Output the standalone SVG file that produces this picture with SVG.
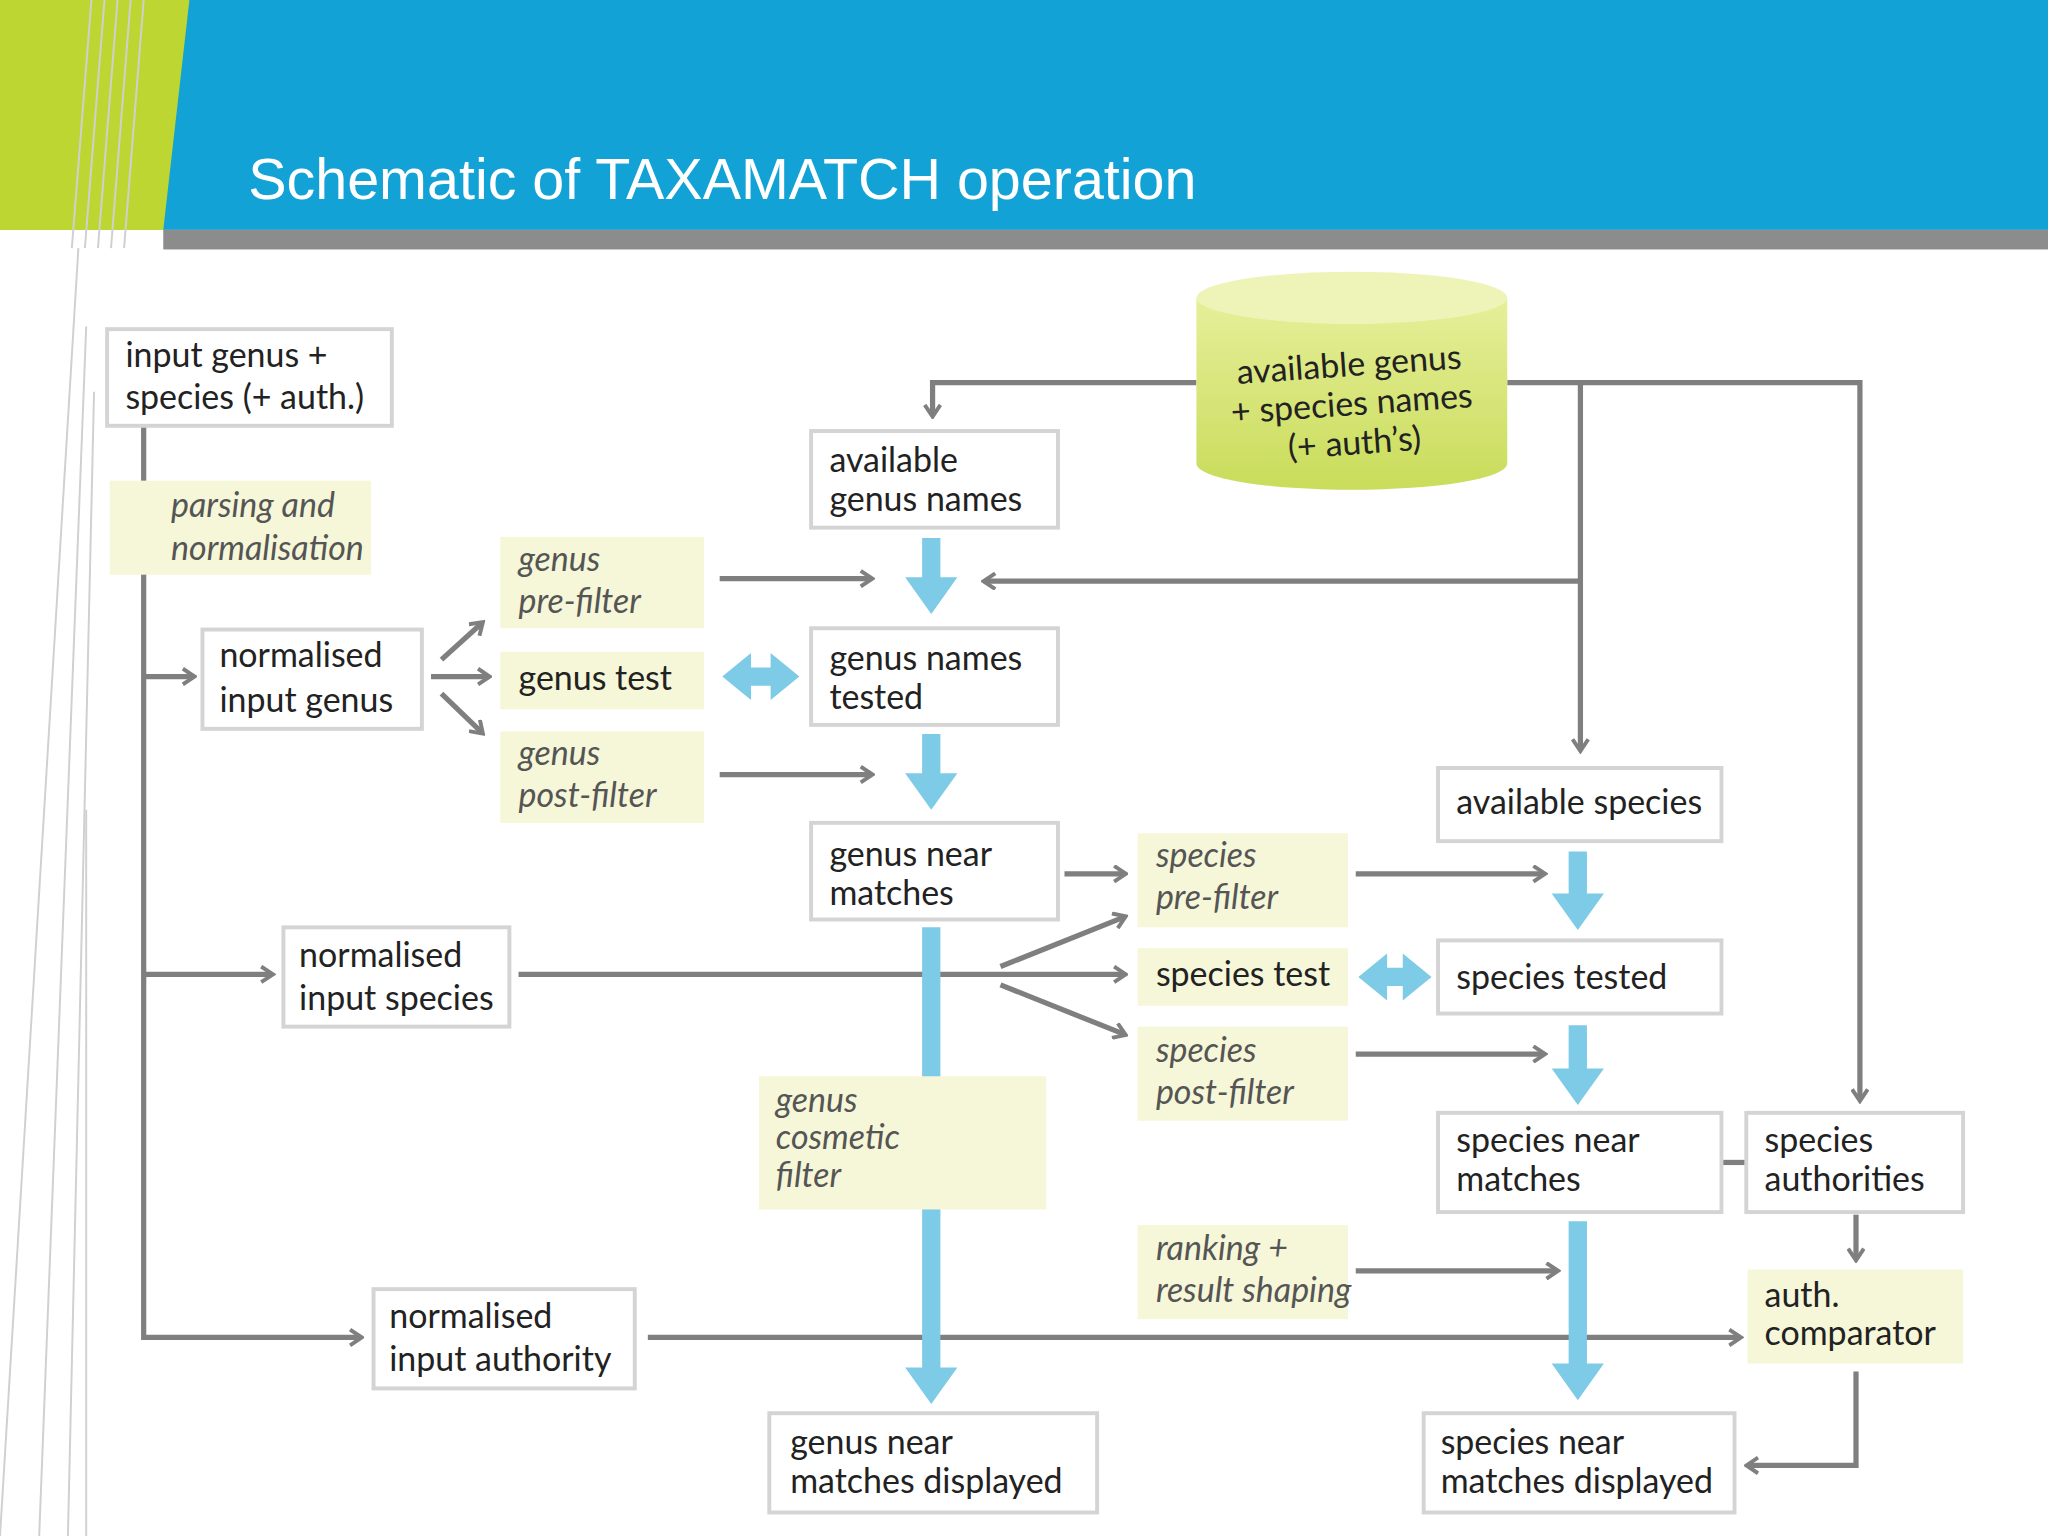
<svg xmlns="http://www.w3.org/2000/svg" width="2048" height="1536" viewBox="0 0 2048 1536">
<defs>
<marker id="ah" markerWidth="12" markerHeight="14" refX="9" refY="7" orient="auto" markerUnits="userSpaceOnUse"><path d="M1,1 L10,7 L1,13" fill="none" stroke="#7f7f7f" stroke-width="3"/></marker>
<linearGradient id="cyl" x1="0" y1="0" x2="0" y2="1"><stop offset="0" stop-color="#e6ef9a"/><stop offset="1" stop-color="#c9dc5a"/></linearGradient>
<style>
.n{fill:#fff;stroke:#d4d4d4;stroke-width:3}
.y{fill:#f5f7d8}
.t{font-family:Lato,"Open Sans",sans-serif;font-size:26px;fill:#222}
.i{font-family:Lato,"Open Sans",sans-serif;font-size:26px;font-style:italic;fill:#555}
.c{fill:none;stroke:#7f7f7f;stroke-width:4}
.b{fill:#7dcbe6}
</style>
</defs>
<rect width="2048" height="1536" fill="#fff"/>
<g transform="scale(1.306122)">
<rect x="0" y="0" width="1568" height="176" fill="#12a2d6"/>
<polygon points="0,0 145,0 125,176 0,176" fill="#bdd631"/>
<rect x="125" y="176" width="1443" height="15" fill="#8c8c8c"/>
<g stroke="#d0d0d0" stroke-width="1.5">
<line x1="60" y1="190" x2="0" y2="1176"/><line x1="66" y1="250" x2="30" y2="1176"/><line x1="72" y1="300" x2="52" y2="1176"/><line x1="66" y1="620" x2="66" y2="1176"/>
<line x1="70" y1="0" x2="55" y2="190"/><line x1="80" y1="0" x2="65" y2="190"/><line x1="90" y1="0" x2="75" y2="190"/><line x1="100" y1="0" x2="85" y2="190"/><line x1="110" y1="0" x2="95" y2="190"/>
</g>
<text x="190" y="152" font-family="Liberation Sans,Arial,sans-serif" font-size="44" fill="#fff">Schematic of TAXAMATCH operation</text>

<g id="connectors">
<polyline class="c" points="916,293 714,293 714,318" marker-end="url(#ah)"/>
<polyline class="c" points="1154,293 1424,293 1424,842" marker-end="url(#ah)"/>
<polyline class="c" points="1210,293 1210,574" marker-end="url(#ah)"/>
<polyline class="c" points="1210,445 754,445" marker-end="url(#ah)"/>
<line class="c" x1="551" y1="443" x2="667" y2="443" marker-end="url(#ah)"/>
<line class="c" x1="551" y1="593" x2="667" y2="593" marker-end="url(#ah)"/>
<polyline class="c" points="110,326 110,1024 276,1024" marker-end="url(#ah)"/>
<line class="c" x1="110" y1="518" x2="148" y2="518" marker-end="url(#ah)"/>
<line class="c" x1="110" y1="746" x2="208" y2="746" marker-end="url(#ah)"/>
<line class="c" x1="330" y1="518" x2="374" y2="518" marker-end="url(#ah)"/>
<line class="c" x1="338" y1="505" x2="369" y2="477" marker-end="url(#ah)"/>
<line class="c" x1="338" y1="531" x2="369" y2="561" marker-end="url(#ah)"/>
<line class="c" x1="397" y1="746" x2="861" y2="746" marker-end="url(#ah)"/>
<line class="c" x1="766" y1="740" x2="861" y2="702" marker-end="url(#ah)"/>
<line class="c" x1="766" y1="754" x2="861" y2="792" marker-end="url(#ah)"/>
<line class="c" x1="815" y1="669" x2="861" y2="669" marker-end="url(#ah)"/>
<line class="c" x1="1038" y1="669" x2="1182" y2="669" marker-end="url(#ah)"/>
<line class="c" x1="1038" y1="807" x2="1182" y2="807" marker-end="url(#ah)"/>
<line class="c" x1="1038" y1="973" x2="1192" y2="973" marker-end="url(#ah)"/>
<line class="c" x1="496" y1="1024" x2="1332" y2="1024" marker-end="url(#ah)"/>
<line class="c" x1="1318" y1="890" x2="1337" y2="890"/>
<line class="c" x1="1421" y1="930" x2="1421" y2="964" marker-end="url(#ah)"/>
<polyline class="c" points="1421,1050 1421,1122 1338,1122" marker-end="url(#ah)"/>
<polygon class="b" points="706,412 720,412 720,442 733,442 713,470 693,442 706,442"/>
<polygon class="b" points="706,562 720,562 720,592 733,592 713,620 693,592 706,592"/>
<polygon class="b" points="706,710 720,710 720,1047 733,1047 713,1075 693,1047 706,1047"/>
<polygon class="b" points="1201,652 1215,652 1215,684 1228,684 1208,712 1188,684 1201,684"/>
<polygon class="b" points="1201,785 1215,785 1215,818 1228,818 1208,846 1188,818 1201,818"/>
<polygon class="b" points="1201,935 1215,935 1215,1044 1228,1044 1208,1072 1188,1044 1201,1044"/>
<polygon class="b" points="553,518 575,500 575,511 590,511 590,500 612,518 590,536 590,525 575,525 575,536"/>
<polygon class="b" points="1040,748 1062,730 1062,741 1074,741 1074,730 1096,748 1074,766 1074,755 1062,755 1062,766"/>
</g>

<g id="db">
<path d="M916,228 L916,355 A119,20 0 0 0 1154,355 L1154,228 Z" fill="url(#cyl)"/>
<ellipse cx="1035" cy="228" rx="119" ry="20" fill="#eef4b8"/>
<g transform="rotate(-4 1035 310)"><text class="t" text-anchor="middle" x="1035" y="288">available genus</text><text class="t" text-anchor="middle" x="1035" y="318">+ species names</text><text class="t" text-anchor="middle" x="1035" y="348">(+ auth’s)</text></g>
</g>

<g id="n1"><rect class="n" x="82" y="252" width="218" height="74"/><text class="t" x="96" y="281">input genus +</text><text class="t" x="96" y="313">species (+ auth.)</text></g>
<g id="n2"><rect class="n" x="621" y="330" width="189" height="74"/><text class="t" x="635" y="361">available</text><text class="t" x="635" y="391">genus names</text></g>
<g id="n3"><rect class="n" x="155" y="482" width="168" height="76"/><text class="t" x="168" y="511">normalised</text><text class="t" x="168" y="545">input genus</text></g>
<g id="n4"><rect class="n" x="621" y="481" width="189" height="74"/><text class="t" x="635" y="513">genus names</text><text class="t" x="635" y="543">tested</text></g>
<g id="n5"><rect class="n" x="1101" y="588" width="217" height="56"/><text class="t" x="1115" y="623">available species</text></g>
<g id="n6"><rect class="n" x="621" y="630" width="189" height="74"/><text class="t" x="635" y="663">genus near</text><text class="t" x="635" y="693">matches</text></g>
<g id="n7"><rect class="n" x="217" y="710" width="173" height="76"/><text class="t" x="229" y="740">normalised</text><text class="t" x="229" y="773">input species</text></g>
<g id="n8"><rect class="n" x="1101" y="720" width="217" height="56"/><text class="t" x="1115" y="757">species tested</text></g>
<g id="n9"><rect class="n" x="1101" y="852" width="217" height="76"/><text class="t" x="1115" y="882">species near</text><text class="t" x="1115" y="912">matches</text></g>
<g id="n10"><rect class="n" x="1337" y="852" width="166" height="76"/><text class="t" x="1351" y="882">species</text><text class="t" x="1351" y="912">authorities</text></g>
<g id="n11"><rect class="n" x="286" y="987" width="200" height="76"/><text class="t" x="298" y="1017">normalised</text><text class="t" x="298" y="1050">input authority</text></g>
<g id="n12"><rect class="n" x="589" y="1082" width="251" height="76"/><text class="t" x="605" y="1113">genus near</text><text class="t" x="605" y="1143">matches displayed</text></g>
<g id="n13"><rect class="n" x="1090" y="1082" width="238" height="76"/><text class="t" x="1103" y="1113">species near</text><text class="t" x="1103" y="1143">matches displayed</text></g>

<g id="y1"><rect class="y" x="84" y="368" width="200" height="72"/><text class="i" x="131" y="396">parsing and</text><text class="i" x="131" y="429">normalisation</text></g>
<g id="y2"><rect class="y" x="383" y="411" width="156" height="70"/><text class="i" x="397" y="437">genus</text><text class="i" x="397" y="469">pre-filter</text></g>
<g id="y3"><rect class="y" x="383" y="499" width="156" height="44"/><text class="t" x="397" y="528">genus test</text></g>
<g id="y4"><rect class="y" x="383" y="560" width="156" height="70"/><text class="i" x="397" y="586">genus</text><text class="i" x="397" y="618">post-filter</text></g>
<g id="y5"><rect class="y" x="581" y="824" width="220" height="102"/><text class="i" x="594" y="851">genus</text><text class="i" x="594" y="880">cosmetic</text><text class="i" x="594" y="909">filter</text></g>
<g id="y6"><rect class="y" x="871" y="638" width="161" height="72"/><text class="i" x="885" y="664">species</text><text class="i" x="885" y="696">pre-filter</text></g>
<g id="y7"><rect class="y" x="871" y="726" width="161" height="44"/><text class="t" x="885" y="755">species test</text></g>
<g id="y8"><rect class="y" x="871" y="786" width="161" height="72"/><text class="i" x="885" y="813">species</text><text class="i" x="885" y="845">post-filter</text></g>
<g id="y9"><rect class="y" x="871" y="938" width="161" height="72"/><text class="i" x="885" y="965">ranking +</text><text class="i" x="885" y="997">result shaping</text></g>
<g id="y10"><rect class="y" x="1338" y="972" width="165" height="72"/><text class="t" x="1351" y="1001">auth.</text><text class="t" x="1351" y="1030">comparator</text></g>
</g>
</svg>
